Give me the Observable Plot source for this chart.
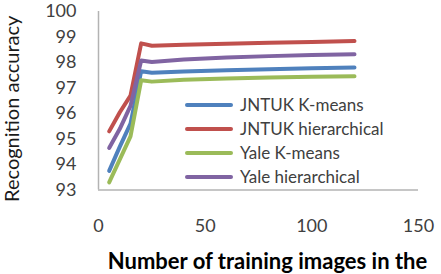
<!DOCTYPE html>
<html><head><meta charset="utf-8">
<script src="https://cdn.jsdelivr.net/npm/d3@7"></script>
<script src="https://cdn.jsdelivr.net/npm/@observablehq/plot@0.6"></script>
<style>
body{margin:0;background:#fff;}
#wrap{position:relative;width:441px;height:274px;overflow:hidden;background:#fff;}
#legend{position:absolute;left:183px;top:93px;width:205px;height:96px;background:#fff;overflow:hidden;font-family:Lato,sans-serif;font-size:17px;color:#404040;}
.row{position:absolute;left:0;height:24px;width:400px;}
.sw{position:absolute;left:2px;width:48px;height:4px;border-radius:2px;top:10px;}
.lbl{position:absolute;left:57px;top:0;line-height:24px;white-space:nowrap;}
</style></head>
<body><div id="wrap"><div id="chart"></div><div id="legend"></div></div>
<script>
const trainingImages = [5, 10, 15, 20, 25, 40, 60, 80, 100, 120];
const seriesNames = ["JNTUK K-means", "JNTUK hierarchical", "Yale K-means", "Yale hierarchical"];
const seriesColors = ["#4F81BD", "#C0504D", "#9BBB59", "#8064A2"];
const jntukKmeans = [93.75, 94.7, 95.6, 97.66, 97.6, 97.65, 97.7, 97.74, 97.77, 97.8];
const jntukHier = [95.3, 96.05, 96.7, 98.75, 98.66, 98.7, 98.74, 98.77, 98.8, 98.84];
const yaleKmeans = [93.3, 94.2, 95.1, 97.3, 97.25, 97.32, 97.37, 97.41, 97.44, 97.46];
const yaleHier = [94.65, 95.4, 96.3, 98.08, 98.02, 98.12, 98.2, 98.25, 98.29, 98.32];
const xTicks = [0, 50, 100, 150];
const yTicks = [93, 94, 95, 96, 97, 98, 99, 100];

const allSeries = [jntukKmeans, jntukHier, yaleKmeans, yaleHier];
const rows = [];
allSeries.forEach((vals, i) => vals.forEach((v, j) => rows.push({x: trainingImages[j], y: v, s: seriesNames[i]})));

const chart = Plot.plot({
  width: 441, height: 274,
  marginLeft: 98, marginRight: 23, marginTop: 11, marginBottom: 84.5,
  style: {fontFamily: "Lato, sans-serif", fontSize: "18px", color: "#404040", background: "#fff", overflow: "visible"},
  x: {domain: [0, 150], ticks: xTicks, tickSize: 0, tickPadding: 29, tickFormat: d => String(d), label: null},
  y: {domain: [93, 100], ticks: yTicks, tickSize: 0, tickPadding: 22, tickFormat: d => String(d), label: null},
  color: {domain: seriesNames, range: seriesColors},
  marks: [
    Plot.ruleX([0], {stroke: "#b3b3b3", strokeWidth: 1.5}),
    Plot.ruleY([93], {stroke: "#b3b3b3", strokeWidth: 1.5}),
    Plot.line(rows, {x: "x", y: "y", z: "s", stroke: "s", strokeWidth: 4, strokeLinejoin: "round", strokeLinecap: "round"}),
    Plot.text(["Number of training images in the"], {frameAnchor: "bottom", dx: 9, dy: 79, fontWeight: "bold", fontSize: 22, fill: "#000"}),
    Plot.text(["Recognition accuracy"], {frameAnchor: "left", textAnchor: "middle", dx: -86, dy: 8, rotate: -90, fontSize: 20, fill: "#1a1a1a"})
  ]
});
document.getElementById("chart").appendChild(chart);

const leg = document.getElementById("legend");
seriesNames.forEach((name, i) => {
  const r = document.createElement("div");
  r.className = "row";
  r.style.top = (i * 24) + "px";
  r.innerHTML = `<span class="sw" style="background:${seriesColors[i]}"></span><span class="lbl">${name}</span>`;
  leg.appendChild(r);
});
</script></body></html>
